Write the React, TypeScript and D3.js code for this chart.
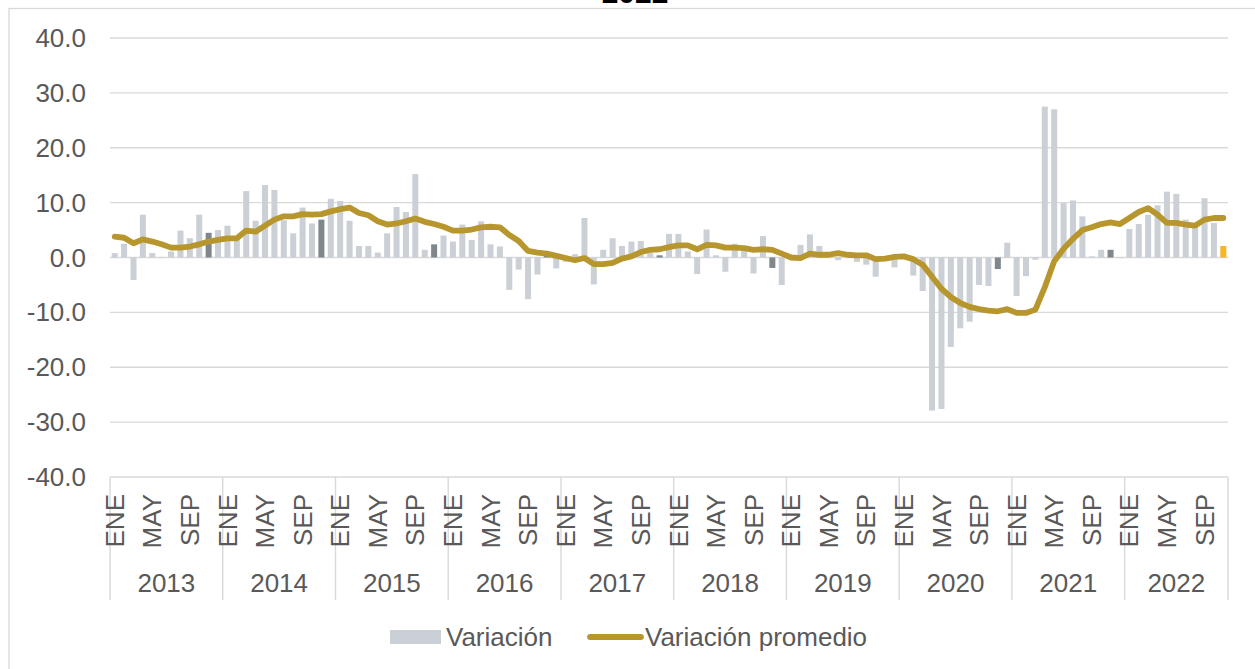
import React from 'react';
import * as d3 from 'd3';

const years = ['2013', '2014', '2015', '2016', '2017', '2018', '2019', '2020', '2021', '2022'];
const monthLabels = ['ENE', 'FEB', 'MAR', 'ABR', 'MAY', 'JUN', 'JUL', 'AGO', 'SEP', 'OCT', 'NOV', 'DIC'];
const shownMonths = ['ENE', 'MAY', 'SEP'];
const yTicks = [-40, -30, -20, -10, 0, 10, 20, 30, 40];

// monthly change, ENE 2013 .. NOV 2022
const variacion = [
  0.8, 2.5, -4.1, 7.8, 0.8, 0.1, 1.1, 4.9, 3.5, 7.8, 4.5, 5.0,
  5.8, 3.3, 12.1, 6.7, 13.2, 12.3, 6.8, 4.4, 9.1, 6.2, 6.9, 10.7,
  10.3, 6.7, 2.1, 2.1, 0.9, 4.4, 9.2, 8.3, 15.2, 1.4, 2.4, 4.0,
  2.9, 6.0, 3.2, 6.6, 2.4, 2.0, -5.9, -2.2, -7.6, -3.1, 0.3, -2.0,
  -0.8, 0.6, 7.2, -4.9, 1.4, 3.5, 2.1, 2.9, 3.0, 0.8, 0.4, 4.3,
  4.3, 1.1, -3.0, 5.1, 0.4, -2.6, 2.5, 1.8, -2.9, 3.9, -1.9, -5.0,
  -0.5, 2.3, 4.2, 2.1, 0.2, -0.5, 0.2, -0.8, -1.3, -3.5, 0.1, -1.8,
  0.1, -3.3, -6.1, -27.9, -27.6, -16.3, -12.9, -11.7, -5.0, -5.2, -2.1, 2.7,
  -7.0, -3.4, -0.4, 27.5, 27.0, 9.9, 10.4, 7.5, 0.2, 1.4, 1.4, -0.1,
  5.2, 6.1, 7.8, 9.5, 12.0, 11.6, 6.9, 6.1, 10.8, 6.3, 2.1,
];

const promedio = [
  3.8, 3.6, 2.6, 3.3, 2.9, 2.4, 1.8, 1.8, 2.0, 2.4, 2.9, 3.2,
  3.5, 3.5, 4.9, 4.7, 5.8, 6.9, 7.5, 7.5, 7.9, 7.8, 7.9, 8.4,
  8.8, 9.1, 8.1, 7.7, 6.6, 6.0, 6.2, 6.6, 7.1, 6.5, 6.1, 5.6,
  4.9, 4.9, 5.1, 5.5, 5.6, 5.5, 4.1, 3.0, 1.2, 0.9, 0.7, 0.3,
  -0.1, -0.5, -0.1, -1.2, -1.2, -1.0, -0.2, 0.2, 1.0, 1.4, 1.5, 1.9,
  2.2, 2.2, 1.5, 2.3, 2.2, 1.8, 1.8, 1.7, 1.4, 1.5, 1.4, 0.7,
  0.0, -0.1, 0.7, 0.5, 0.5, 0.8, 0.5, 0.4, 0.4, -0.3, -0.2, 0.1,
  0.2, -0.3, -1.3, -3.5, -5.7, -7.2, -8.3, -9.0, -9.4, -9.7, -9.8, -9.4,
  -10.1, -10.1, -9.5, -5.4, -0.7, 1.6, 3.4, 5.0, 5.5, 6.1, 6.4, 6.1,
  7.2, 8.3, 9.0, 7.8, 6.3, 6.3, 6.0, 5.8, 6.9, 7.2, 7.2,
];

const W = 1255, H = 669;
const FONT = '"Liberation Sans", Arial, sans-serif';
const GRID = '#d9d9d9';
const TXT = '#595959';

export default function App() {
  const idx = variacion.map((_, i) => i);
  const x = d3.scaleBand<number>().domain(idx).range([110, 1228]).paddingInner(0.36).paddingOuter(0.18);
  const y = d3.scaleLinear().domain([-40, 40]).range([477, 38]);
  const step = x.step();
  const left = 110;
  const cx = (i: number) => (x(i) as number) + x.bandwidth() / 2;
  const monthX = (i: number) => left + step * (i + 0.5);
  const last = variacion.length - 1;

  const barColor = (i: number) => {
    if (i === last) return '#f8b722';
    if (i % 12 === 10) return '#7f878d';
    return '#cad0d6';
  };

  const line = d3.line<number>().x((_, i) => cx(i)).y(d => y(d));

  // year boundaries on the category axis
  const bounds = years.map((_, k) => left + step * k * 12).concat([left + step * variacion.length]);

  return (
    <div style={{ position: 'fixed', left: 0, top: 0, width: W, height: H, background: '#fff' }}>
      <svg width={W} height={H} style={{ display: 'block', fontFamily: FONT }}>
        <rect x={9} y={8.5} width={W + 20} height={H + 20} fill="none" stroke={GRID} strokeWidth={1.3} />
        {/* title sits above the frame, only its lower edge shows */}
        <text x={635} y={3} textAnchor="middle" fontSize={30} fontWeight="bold" fill="#000">2022</text>

        {yTicks.map(t => (
          <g key={t}>
            <line x1={left} x2={1228} y1={y(t)} y2={y(t)} stroke={GRID} strokeWidth={1.4} />
            <text x={86} y={y(t)} dy="0.35em" textAnchor="end" fontSize={26} fill={TXT}>{t.toFixed(1)}</text>
          </g>
        ))}

        {variacion.map((v, i) => (
          <rect key={i} x={x(i)} width={x.bandwidth()} y={y(Math.max(0, v))}
            height={Math.abs(y(v) - y(0))} fill={barColor(i)} />
        ))}

        <path d={line(promedio) || ''} fill="none" stroke="#b8962e" strokeWidth={5.8}
          strokeLinejoin="round" strokeLinecap="round" />

        {/* category axis */}
        {bounds.map((b, k) => (
          <line key={k} x1={b} x2={b} y1={477} y2={600} stroke={GRID} strokeWidth={1.4} />
        ))}
        {variacion.map((_, i) => {
          const m = monthLabels[i % 12];
          if (!shownMonths.includes(m)) return null;
          const mx = monthX(i);
          return (
            <text key={i} transform={`translate(${mx},494) rotate(-90)`} dy="0.35em" textAnchor="end"
              fontSize={26} fill={TXT}>{m}</text>
          );
        })}
        {years.map((yr, k) => (
          <text key={yr} x={(bounds[k] + bounds[k + 1]) / 2} y={592} textAnchor="middle" fontSize={26} fill={TXT}>{yr}</text>
        ))}

        {/* legend */}
        <rect x={390} y={630} width={51} height={14} fill="#cad0d6" />
        <text x={446} y={646} fontSize={26} fill={TXT}>Variación</text>
        <line x1={590} x2={641} y1={637} y2={637} stroke="#b8962e" strokeWidth={5.8} strokeLinecap="round" />
        <text x={645} y={646} fontSize={26} fill={TXT}>Variación promedio</text>
      </svg>
    </div>
  );
}
